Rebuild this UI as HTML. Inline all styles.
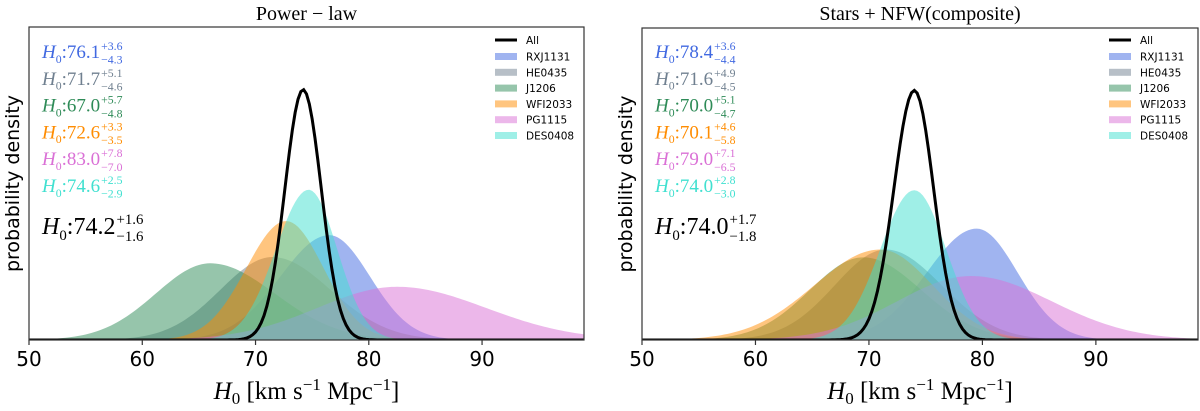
<!DOCTYPE html>
<html><head><meta charset="utf-8"><style>
html,body{margin:0;padding:0;background:#fff;}
svg{display:block;}
.tick{font-family:"DejaVu Sans","Liberation Sans",sans-serif;font-size:20px;fill:#000;text-anchor:middle;}
.serif{font-family:"Liberation Serif","DejaVu Serif",serif;}
.leg{font-family:"DejaVu Sans","Liberation Sans",sans-serif;font-size:10.5px;fill:#000;}
</style></head><body>
<svg id="chart" width="1200" height="411" viewBox="0 0 1200 411" xmlns="http://www.w3.org/2000/svg"></svg>
<script>
const series = ["RXJ1131","HE0435","J1206","WFI2033","PG1115","DES0408"];
const colors = ["#4169e1","#708090","#2e8b57","#ff8c00","#da70d6","#40e0d0"];
const xTicks = [50,60,70,80,90];
// Panel 1: power-law
const plCenters = [76.5,71.5,66.0,72.7,82.5,74.7];
const plErrPlus = [3.6,5.1,5.7,3.3,7.8,2.5];
const plErrMinus = [4.3,4.6,4.8,3.5,7.0,2.9];
const plPeaks = [0.335,0.265,0.245,0.38,0.17,0.48];
const plLabels = ["76.1","71.7","67.0","72.6","83.0","74.6"];
const plAll = [74.2,1.6,1.6,0.80];
// Panel 2: composite
const cmCenters = [79.5,71.5,69.5,71.0,79.0,74.0];
const cmErrPlus = [3.6,4.9,5.1,4.6,7.1,2.8];
const cmErrMinus = [4.4,4.5,4.7,5.8,6.5,3.0];
const cmPeaks = [0.357,0.29,0.265,0.29,0.205,0.48];
const cmLabels = ["78.4","71.6","70.0","70.1","79.0","74.0"];
const cmAll = [74.0,1.7,1.8,0.80];

const NS="http://www.w3.org/2000/svg";
const svg=document.getElementById('chart');
function mk(tag,attrs,parent){const e=document.createElementNS(NS,tag);for(const k in attrs)e.setAttribute(k,attrs[k]);(parent||svg).appendChild(e);return e;}

function panel(p){
  const g=mk('g',{});
  
  
  const X=v=>p.x0+(v-50)/(99.0-50)*(p.x1-p.x0);
  const Y=v=>p.y1-v*(p.y1-p.y0);
  const dens=(x,c,sp,sm,pk)=>{const s=x<c?sm:sp;return pk*Math.exp(-0.5*((x-c)/s)**2);};
  const clip='clip'+p.id;
  const cp=mk('clipPath',{id:clip},g);mk('rect',{x:p.x0,y:p.y0,width:p.x1-p.x0,height:p.y1-p.y0},cp);
  for(let i=0;i<series.length;i++){
    let d='M'+X(50)+','+Y(0);
    for(let x=50;x<=99.01;x+=0.25)d+=' L'+X(x).toFixed(2)+','+Y(dens(x,p.c[i],p.ep[i],p.em[i],p.pk[i])).toFixed(2);
    d+=' L'+X(99)+','+Y(0)+' Z';
    const a=mk('path',{d:d,fill:colors[i],'fill-opacity':0.5,'clip-path':'url(#'+clip+')'},g);
    
    
  }
  let d='';
  for(let x=50;x<=99.01;x+=0.25)d+=(d?' L':'M')+X(x).toFixed(2)+','+Y(dens(x,p.all[0],p.all[1],p.all[2],p.all[3])).toFixed(2);
  const ln=mk('path',{d:d,fill:'none',stroke:'#000','stroke-width':3,'clip-path':'url(#'+clip+')'},g);
  
  
  const fr=mk('rect',{x:p.x0,y:p.y0,width:p.x1-p.x0,height:p.y1-p.y0,fill:'none',stroke:'#333','stroke-width':1.2},g);
  
  
  xTicks.forEach(t=>{
    mk('line',{x1:X(t),x2:X(t),y1:p.y1,y2:p.y1+5,stroke:'#333','stroke-width':1.2},g);
    const tx=mk('text',{x:X(t),y:p.y1+26,class:'tick'},g);tx.textContent=t;
    
    
  });
  const ti=mk('text',{x:(p.x0+p.x1)/2,y:20,class:'serif','font-size':20,'text-anchor':'middle'},g);
  ti.textContent=p.title;
  
  
  const yl=mk('text',{x:0,y:0,'font-family':'"DejaVu Sans","Liberation Sans",sans-serif','font-size':19,'text-anchor':'middle',transform:'translate('+(p.x0-10)+','+((p.y0+p.y1)/2)+') rotate(-90)'},g);
  yl.textContent='probability density';
  
  
  const xl=mk('text',{x:(p.x0+p.x1)/2,y:399,class:'serif','font-size':25,'text-anchor':'middle'},g);
  xl.innerHTML='<tspan font-style="italic">H</tspan><tspan font-size="17" dy="5">0</tspan><tspan dy="-5"> [km s</tspan><tspan font-size="17" dy="-9">−1</tspan><tspan dy="9"> Mpc</tspan><tspan font-size="17" dy="-9">−1</tspan><tspan dy="9">]</tspan>';
  
  
  const ann=(yb,col,val,up,dn,fs,name)=>{
    const t=mk('text',{x:p.x0+13,y:yb,class:'serif','font-size':fs,fill:col},g);
    const s=fs*0.62;
    t.innerHTML='<tspan font-style="italic">H</tspan><tspan font-size="'+s+'" dy="'+(fs*0.25)+'">0</tspan><tspan dy="'+(-fs*0.25)+'">:'+val+'</tspan>';
    
    
    const w=t.getComputedTextLength();
    const u=mk('text',{x:p.x0+13+w+1,y:yb-fs*0.42,class:'serif','font-size':s,fill:col},g);u.textContent='+'+up;
    const l=mk('text',{x:p.x0+13+w+1,y:yb+fs*0.3,class:'serif','font-size':s,fill:col},g);l.textContent='−'+dn;
  };
  for(let i=0;i<series.length;i++)ann(58+i*26.8,colors[i],p.labels[i],p.ep[i].toFixed(1),p.em[i].toFixed(1),19,'h0-annotation-'+series[i].toLowerCase());
  ann(234,'#000',p.all[0].toFixed(1),p.all[1].toFixed(1),p.all[2].toFixed(1),24,'h0-annotation-all');
  const lg=mk('g',{},g);
  
  
  const lx=p.x1-89;
  mk('line',{x1:lx,x2:lx+22,y1:40,y2:40,stroke:'#000','stroke-width':3},lg);
  const ta=mk('text',{x:lx+31,y:44,class:'leg'},lg);ta.textContent='All';
  for(let i=0;i<series.length;i++){
    const yy=56.5+i*15.8;
    mk('rect',{x:lx,y:yy-3.5,width:22,height:7,fill:colors[i],'fill-opacity':0.5},lg);
    const tt=mk('text',{x:lx+31,y:yy+4,class:'leg'},lg);tt.textContent=series[i];
    
    
  }
}
panel({id:1,name:'power-law-panel',title:'Power − law',x0:29,x1:584,y0:27,y1:340,c:plCenters,ep:plErrPlus,em:plErrMinus,pk:plPeaks,labels:plLabels,all:plAll});
panel({id:2,name:'composite-panel',title:'Stars + NFW(composite)',x0:642,x1:1198,y0:28,y1:340,c:cmCenters,ep:cmErrPlus,em:cmErrMinus,pk:cmPeaks,labels:cmLabels,all:cmAll});
</script>
</body></html>
